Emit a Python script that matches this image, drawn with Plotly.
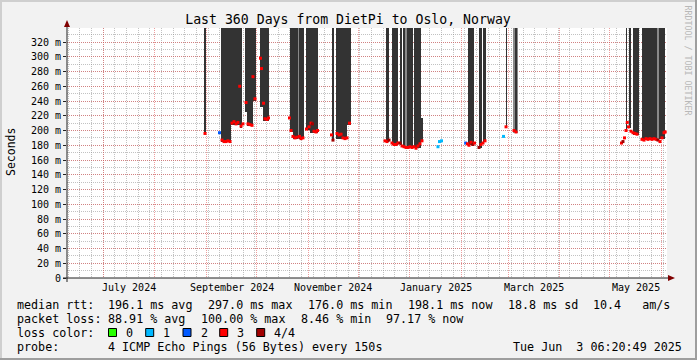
import plotly.graph_objects as go
import pandas as pd

# ---------------- data ----------------
# dark "smoke" columns: start, end, lower edge (ms), upper edge (ms)
dark_start = ["2024-08-30 11:00", "2024-09-09 16:00", "2024-09-15 16:00", "2024-09-21 08:00",
              "2024-09-24 01:00", "2024-09-25 02:00", "2024-09-28 20:00", "2024-10-03 01:00",
              "2024-10-04 20:00", "2024-10-21 01:00", "2024-10-22 16:00", "2024-10-30 16:00",
              "2024-11-01 18:00", "2024-11-14 23:00", "2024-11-17 16:00", "2024-11-24 06:00",
              "2024-12-17 16:00", "2024-12-21 06:00", "2024-12-26 08:00", "2024-12-28 01:00",
              "2024-12-30 02:00", "2025-01-03 11:00", "2025-01-07 16:00", "2025-02-04 16:00",
              "2025-02-11 11:00", "2025-02-14 01:00", "2025-02-27 11:00", "2025-03-05 01:00",
              "2025-05-10 16:00", "2025-05-12 11:00", "2025-05-14 16:00", "2025-05-20 06:00",
              "2025-05-30 15:00"]
dark_end = ["2024-08-31 16:00", "2024-09-15 16:00", "2024-09-21 01:00", "2024-09-22 13:00",
            "2024-09-25 02:00", "2024-09-28 20:00", "2024-09-30 16:00", "2024-10-04 20:00",
            "2024-10-08 06:00", "2024-10-22 16:00", "2024-10-29 11:00", "2024-11-01 18:00",
            "2024-11-06 16:00", "2024-11-16 11:00", "2024-11-24 06:00", "2024-11-26 16:00",
            "2024-12-19 11:00", "2024-12-25 01:00", "2024-12-27 10:00", "2024-12-29 01:00",
            "2025-01-02 20:00", "2025-01-07 16:00", "2025-01-08 20:00", "2025-02-08 11:00",
            "2025-02-13 10:00", "2025-02-15 16:00", "2025-02-28 06:00", "2025-03-05 23:00",
            "2025-05-11 10:00", "2025-05-13 11:00", "2025-05-18 04:00", "2025-05-29 02:00",
            "2025-06-03 06:00"]
dark_low = [197, 185, 208, 203, 225, 206, 240, 232, 213, 198, 188, 201, 197, 186, 189, 208,
            185, 181, 180, 177, 176, 176, 185, 181, 176, 184, 204, 197, 199, 204, 194, 187, 189]
dark_high = [400, 400, 400, 400, 400, 400, 400, 400, 400, 400, 400, 400, 400, 400, 400, 400,
             400, 400, 400, 400, 400, 400, 217, 400, 400, 400, 400, 400, 400, 400, 400, 400, 400]

# lighter smoke columns
light_start = ["2024-10-25 16:00", "2024-12-29 01:00", "2025-03-03 16:00", "2025-03-05 23:00",
               "2025-05-29 02:00"]
light_end = ["2024-10-26 11:00", "2024-12-30 02:00", "2025-03-05 01:00", "2025-03-07 01:00",
             "2025-05-30 15:00"]
light_low = [188, 177, 197, 197, 187]
light_high = [400, 400, 400, 400, 400]

# median rtt samples: time, ms, lost pings (0..4)
med_time = ["2024-08-31 01:00", "2024-09-08 18:00", "2024-09-10 06:00", "2024-09-11 11:00",
            "2024-09-12 16:00", "2024-09-13 20:00", "2024-09-15 01:00", "2024-09-16 06:00",
            "2024-09-17 11:00", "2024-09-18 16:00", "2024-09-19 20:00", "2024-09-20 21:00",
            "2024-09-21 16:00", "2024-09-22 20:00", "2024-09-24 16:00", "2024-09-25 20:00",
            "2024-09-27 01:00", "2024-09-28 06:00", "2024-09-28 20:00", "2024-09-30 01:00",
            "2024-10-03 08:00", "2024-10-03 23:00", "2024-10-05 04:00", "2024-10-06 01:00",
            "2024-10-07 06:00", "2024-10-08 04:00",
            "2024-10-20 18:00", "2024-10-21 16:00", "2024-10-22 20:00", "2024-10-24 01:00",
            "2024-10-25 06:00", "2024-10-26 18:00", "2024-10-27 16:00", "2024-10-28 20:00",
            "2024-10-30 23:00", "2024-11-01 11:00", "2024-11-02 16:00", "2024-11-03 13:00",
            "2024-11-04 11:00", "2024-11-05 16:00", "2024-11-06 13:00", "2024-11-14 23:00",
            "2024-11-15 20:00", "2024-11-18 06:00", "2024-11-19 11:00", "2024-11-20 16:00",
            "2024-11-21 20:00", "2024-11-23 01:00", "2024-11-24 06:00", "2024-11-25 18:00",
            "2024-12-17 01:00", "2024-12-18 06:00", "2024-12-19 11:00", "2024-12-21 06:00",
            "2024-12-22 11:00", "2024-12-23 16:00", "2024-12-24 20:00", "2024-12-26 01:00",
            "2024-12-27 06:00", "2024-12-28 11:00", "2024-12-29 16:00", "2024-12-30 20:00",
            "2025-01-01 01:00", "2025-01-02 06:00", "2025-01-03 11:00", "2025-01-04 16:00",
            "2025-01-05 20:00", "2025-01-07 01:00", "2025-01-08 06:00",
            "2025-01-17 20:00", "2025-01-18 18:00", "2025-01-19 23:00",
            "2025-02-03 11:00", "2025-02-04 13:00", "2025-02-05 11:00", "2025-02-06 16:00",
            "2025-02-07 20:00", "2025-02-08 18:00", "2025-02-11 11:00", "2025-02-12 16:00",
            "2025-02-13 20:00", "2025-02-15 01:00", "2025-02-26 04:00", "2025-02-27 16:00",
            "2025-03-04 11:00", "2025-03-05 16:00",
            "2025-05-07 23:00", "2025-05-08 20:00", "2025-05-09 18:00", "2025-05-10 16:00",
            "2025-05-11 10:00", "2025-05-12 04:00", "2025-05-13 16:00", "2025-05-14 20:00",
            "2025-05-16 01:00", "2025-05-17 06:00", "2025-05-20 06:00", "2025-05-21 11:00",
            "2025-05-22 16:00", "2025-05-23 20:00", "2025-05-25 01:00", "2025-05-26 06:00",
            "2025-05-27 11:00", "2025-05-28 16:00", "2025-05-29 20:00", "2025-05-31 01:00",
            "2025-06-01 06:00", "2025-06-02 11:00", "2025-06-03 04:00"]
med_ms = [196, 197, 187, 185, 185, 186, 185, 210, 212, 209, 211, 260, 206, 209, 238, 209,
          208, 207, 273, 243, 298, 284, 237, 216, 215, 217,
          217, 200, 192, 190, 191, 192, 189, 190, 202, 205, 210, 209, 199, 198, 200, 194,
          187, 196, 194, 195, 190, 189, 190, 210,
          186, 185, 187, 183, 181, 181, 183, 183, 179, 178, 177, 177, 178, 177, 178, 176,
          179, 182, 186,
          178, 185, 186,
          183, 182, 180, 184, 181, 183, 177, 181, 183, 186, 192, 205, 200, 198,
          183, 185, 190, 200, 211, 205, 199, 197, 196, 195, 188, 187, 189, 188, 189, 188,
          189, 188, 187, 185, 190, 197, 198]
med_loss = [3, 2, 3, 3, 3, 3, 3, 3, 3, 3, 3, 3, 3, 3, 3, 3,
            3, 3, 3, 3, 3, 3, 3, 3, 3, 3,
            3, 3, 3, 3, 3, 3, 3, 3, 3, 3, 3, 4, 3, 3, 3, 3,
            4, 3, 3, 3, 3, 3, 3, 3,
            3, 3, 4, 3, 3, 3, 3, 4, 3, 3, 3, 3, 3, 3, 3, 3,
            3, 3, 3,
            1, 1, 1,
            2, 3, 3, 3, 4, 3, 4, 3, 3, 3, 1, 3, 3, 3,
            3, 4, 3, 3, 3, 3, 3, 3, 3, 3, 3, 3, 3, 3, 3, 3,
            3, 3, 4, 3, 3, 3, 3]

loss_labels = ["0", "1", "2", "3", "4/4"]
loss_colors = ["#26ff00", "#00b8ff", "#0059ff", "#ff0000", "#a10000"]

y_ticks = [0, 20, 40, 60, 80, 100, 120, 140, 160, 180, 200, 220, 240, 260, 280, 300, 320]
y_tick_text = ["0", "20 m", "40 m", "60 m", "80 m", "100 m", "120 m", "140 m", "160 m",
               "180 m", "200 m", "220 m", "240 m", "260 m", "280 m", "300 m", "320 m"]
month_starts = ["2024-07-01", "2024-08-01", "2024-09-01", "2024-10-01", "2024-11-01",
                "2024-12-01", "2025-01-01", "2025-02-01", "2025-03-01", "2025-04-01",
                "2025-05-01", "2025-06-01"]
month_labels = ["July 2024", "September 2024", "November 2024", "January 2025",
                "March 2025", "May 2025"]
month_label_pos = ["2024-07-16 12:00", "2024-09-16 00:00", "2024-11-16 00:00",
                   "2025-01-16 12:00", "2025-03-16 12:00", "2025-05-16 12:00"]

x_range = ["2024-06-09 06:00", "2025-06-04 06:00"]
y_range = [0, 339]

stat_rtt = [("median rtt:", 16), ("196.1 ms avg", 107), ("297.0 ms max", 207),
            ("176.0 ms min", 307), ("198.1 ms now", 407), ("18.8 ms sd", 506.5),
            ("10.4   am/s", 592)]
stat_loss = [("packet loss:", 16), ("88.91 % avg", 107), ("100.00 % max", 200),
             ("8.46 % min", 300), ("97.17 % now", 385)]
probe_text = "4 ICMP Echo Pings (56 Bytes) every 150s"
stamp_text = "Tue Jun  3 06:20:49 2025"
title_text = "Last 360 Days from DietPi to Oslo, Norway"

# ---------------- figure ----------------
W, H = 697, 360
L, R, T, B = 67, 667, 28, 278
MONO = "DejaVu Sans Mono"


def px(xp):
    return (xp - L) / (R - L)


def py(yp):
    return (B - yp) / (B - T)


def bars(starts, ends, lows, highs, color):
    s = pd.to_datetime(starts)
    e = pd.to_datetime(ends)
    mid = s + (e - s) / 2
    width = [(b - a).total_seconds() * 1000 for a, b in zip(s, e)]
    return go.Bar(x=mid, y=[h - l for h, l in zip(highs, lows)], base=lows, width=width,
                  marker=dict(color=color, line=dict(width=0)), showlegend=False,
                  hoverinfo="skip")


fig = go.Figure()
fig.add_trace(bars(dark_start, dark_end, dark_low, dark_high, "#333333"))
fig.add_trace(bars(light_start, light_end, light_low, light_high, "#8a8a8a"))
fig.add_trace(go.Scatter(x=pd.to_datetime(med_time), y=med_ms, mode="markers",
                         marker=dict(symbol="square", size=3,
                                     color=[loss_colors[k] for k in med_loss]),
                         showlegend=False, hoverinfo="skip"))

grid_major = "rgba(222,79,79,0.55)"
grid_minor = "rgba(143,143,143,0.55)"

fig.update_layout(
    width=W, height=H, autosize=False,
    margin=dict(l=L, r=W - R, t=T, b=H - B, pad=0),
    paper_bgcolor="#f2f2f2", plot_bgcolor="#ffffff",
    barmode="overlay", bargap=0,
    font=dict(family=MONO, color="#000000"),
    title=dict(text=title_text, x=348 / W, xref="container", xanchor="center",
               y=1 - 19 / H, yref="container", yanchor="middle",
               font=dict(family=MONO, size=13.2, color="#000000")),
    xaxis=dict(type="date", range=x_range, tickmode="array", tickvals=month_starts,
               showticklabels=False, ticks="", showgrid=True, gridcolor=grid_major,
               griddash="1px,1px", gridwidth=1, zeroline=False, showline=False,
               minor=dict(tickmode="linear", tick0="2024-06-10", dtick=7 * 86400000,
                          showgrid=True, gridcolor=grid_minor, griddash="1px,1px",
                          gridwidth=1, ticks="")),
    yaxis=dict(range=y_range, tickmode="array", tickvals=y_ticks, ticktext=y_tick_text,
               ticks="outside", ticklen=3, tickcolor="#212121", tickwidth=1,
               tickfont=dict(family=MONO, size=10, color="#000000"),
               showgrid=True, gridcolor=grid_major, griddash="1px,1px", gridwidth=1,
               zeroline=False, showline=False,
               minor=dict(tickmode="linear", tick0=0, dtick=10, showgrid=True,
                          gridcolor=grid_minor, griddash="1px,1px", gridwidth=1,
                          ticks="")),
)

ann = []
# month labels (on the x scale)
for lab, pos in zip(month_labels, month_label_pos):
    ann.append(dict(x=pos, xref="x", y=py(287.5), yref="paper", text=lab, showarrow=False,
                    xanchor="center", yanchor="middle",
                    font=dict(family=MONO, size=10, color="#000000")))
# y title
ann.append(dict(x=px(11), y=py(152), xref="paper", yref="paper", text="Seconds",
                textangle=-90, showarrow=False, xanchor="center", yanchor="middle",
                font=dict(family=MONO, size=11.5, color="#000000")))
# watermark
ann.append(dict(x=px(687.5), y=py(60), xref="paper", yref="paper",
                text="RRDTOOL / TOBI OETIKER", textangle=90, showarrow=False,
                xanchor="center", yanchor="middle",
                font=dict(family=MONO, size=8.3, color="#b8b8b8")))

LEG = 11.7
line_y = [304.5, 318.5, 332.5, 346.5]


def leg(text, x, y):
    ann.append(dict(x=px(x - 1), y=py(y), xref="paper", yref="paper", text=text,
                    showarrow=False, xanchor="left", yanchor="middle",
                    font=dict(family=MONO, size=LEG, color="#000000")))


for t, x in stat_rtt:
    leg(t, x, line_y[0])
for t, x in stat_loss:
    leg(t, x, line_y[1])
leg("loss color:", 16, line_y[2])
shapes = []
sq_x = [108.5, 145.7, 183, 219.7, 256.7]
for lab, col, x in zip(loss_labels, loss_colors, sq_x):
    shapes.append(dict(type="rect", xref="paper", yref="paper", x0=px(x), x1=px(x + 8),
                       y0=py(line_y[2] + 4), y1=py(line_y[2] - 4), fillcolor=col,
                       line=dict(color="#000000", width=1)))
    leg(lab, x + 16.5, line_y[2])
leg("probe:", 16, line_y[3])
leg(probe_text, 107, line_y[3])
leg(stamp_text, 512, line_y[3])
fig.update_layout(annotations=ann)

# axis lines and arrows
AX = "#212121"
ARROW = "#800000"
shapes.append(dict(type="line", xref="paper", yref="paper", x0=px(63), x1=px(668),
                   y0=0, y1=0, line=dict(color=AX, width=1)))
shapes.append(dict(type="line", xref="paper", yref="paper", x0=0, x1=0,
                   y0=py(282), y1=py(26), line=dict(color=AX, width=1)))
shapes.append(dict(type="path", xref="paper", yref="paper",
                   path=f"M {px(668)} {py(275)} L {px(675)} {py(278)} L {px(668)} {py(281)} Z",
                   fillcolor=ARROW, line=dict(color=ARROW, width=0)))
shapes.append(dict(type="path", xref="paper", yref="paper",
                   path=f"M {px(64)} {py(27)} L {px(67)} {py(20)} L {px(70)} {py(27)} Z",
                   fillcolor=ARROW, line=dict(color=ARROW, width=0)))
# 3d frame
shapes.append(dict(type="rect", xref="paper", yref="paper", x0=px(0), x1=px(W), y0=py(H),
                   y1=py(H - 2), fillcolor="#9e9e9e", line=dict(width=0), layer="below"))
shapes.append(dict(type="rect", xref="paper", yref="paper", x0=px(W - 2), x1=px(W),
                   y0=py(H), y1=py(0), fillcolor="#9e9e9e", line=dict(width=0), layer="below"))
shapes.append(dict(type="rect", xref="paper", yref="paper", x0=px(0), x1=px(W - 2),
                   y0=py(2), y1=py(0), fillcolor="#cfcfcf", line=dict(width=0), layer="below"))
shapes.append(dict(type="rect", xref="paper", yref="paper", x0=px(0), x1=px(2),
                   y0=py(H - 2), y1=py(0), fillcolor="#cfcfcf", line=dict(width=0), layer="below"))
fig.update_layout(shapes=shapes)

fig.write_html("out.html", config={"displayModeBar": False, "staticPlot": True},
               post_script="document.body.style.margin='0px';"
                           "document.body.style.overflow='hidden';")
